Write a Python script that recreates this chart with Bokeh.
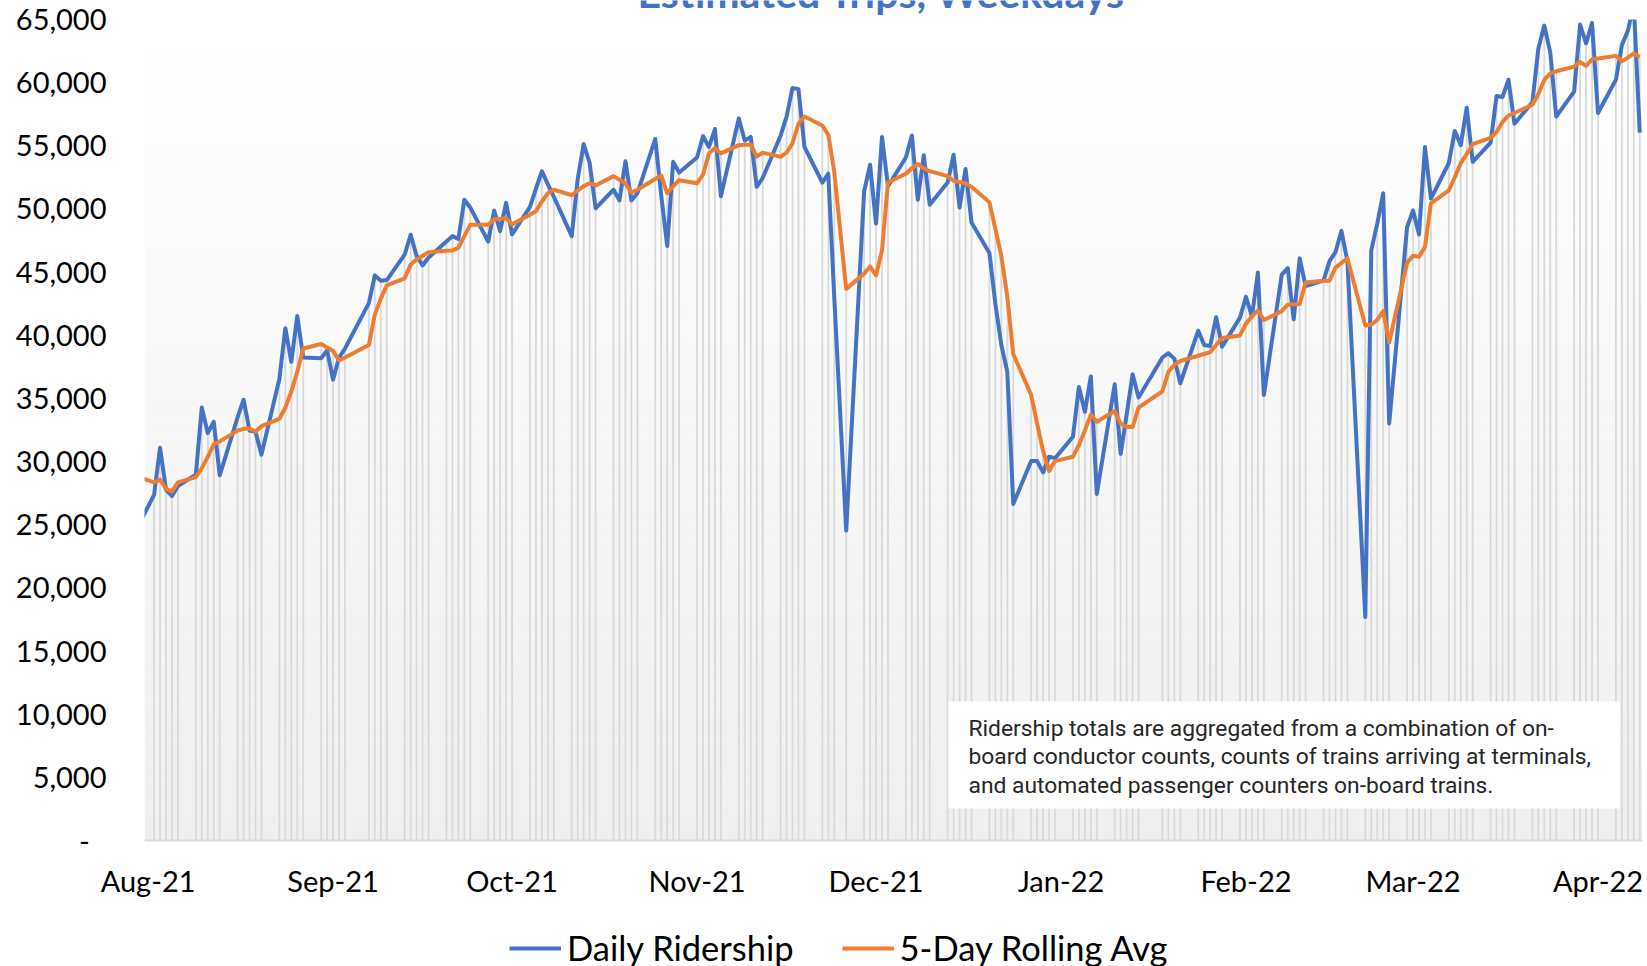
from datetime import datetime, timedelta
import pandas as pd
from bokeh.plotting import figure
from bokeh.models import (Range1d, Label, Span, BoxAnnotation, Legend, LegendItem,
                          ColumnDataSource)
from bokeh.embed import file_html
from bokeh.resources import INLINE

# ---------------- data (weekdays) ----------------
dates = (
    ["2021-07-30"]
    + ["2021-08-%02d" % d for d in [2, 3, 4, 5, 6, 9, 10, 11, 12, 13, 16, 17, 18, 19, 20, 23, 24, 25, 26, 27, 30, 31]]
    + ["2021-09-%02d" % d for d in [1, 2, 3, 7, 8, 9, 10, 13, 14, 15, 16, 17, 20, 21, 22, 23, 24, 27, 28, 29, 30]]
    + ["2021-10-%02d" % d for d in [1, 4, 5, 6, 7, 8, 11, 12, 13, 14, 15, 18, 19, 20, 21, 22, 25, 26, 27, 28, 29]]
    + ["2021-11-%02d" % d for d in [1, 2, 3, 4, 5, 8, 9, 10, 11, 12, 15, 16, 17, 18, 19, 22, 23, 24, 26, 29, 30]]
    + ["2021-12-%02d" % d for d in [1, 2, 3, 6, 7, 8, 9, 10, 13, 14, 15, 16, 17, 20, 21, 22, 23, 24, 27, 28, 29, 30, 31]]
    + ["2022-01-%02d" % d for d in [3, 4, 5, 6, 7, 10, 11, 12, 13, 14, 18, 19, 20, 21, 24, 25, 26, 27, 28, 31]]
    + ["2022-02-%02d" % d for d in [1, 2, 3, 4, 7, 8, 9, 10, 11, 14, 15, 16, 17, 18, 21, 22, 23, 24, 25, 28]]
    + ["2022-03-%02d" % d for d in [1, 2, 3, 4, 7, 8, 9, 10, 11, 14, 15, 16, 17, 18, 21, 22, 23, 24, 25, 28, 29, 30, 31]]
    + ["2022-04-%02d" % d for d in [1, 4, 5, 6, 7, 8]]
)

daily_ridership = [
    24600,
    27360, 31090, 27780, 27270, 28070, 28970, 34280, 32250, 33150, 28910, 33500, 34900, 32450, 32360, 30550,
    36540, 40560, 37900, 41520, 38240, 38180, 38800,
    36490, 38240, 38950, 42540, 44740, 44320, 44370, 46380, 47960, 46290, 45530, 46150, 47420, 47850, 47620,
    50730, 50110, 47420, 49880, 48240, 50480,
    47990, 50170, 51600, 52990, 51950, 50960, 47850, 52370, 55140, 53640, 50050, 51520, 50670, 53780, 50670,
    51240, 55540, 51070, 47060, 53730, 52880,
    54070, 55760, 54910, 56330, 51010, 57170, 55420, 55700, 51750, 52450, 55800, 57300, 59580, 59490, 54910,
    52090, 52790, 43000, 24540, 51380, 53500,
    48840, 55700, 51800, 54070, 55820, 50730, 54260, 50330, 52090, 54290, 50110, 53160, 48920, 46520, 42500,
    39230, 37110, 26650, 30040, 30040, 29140, 30380, 30270,
    31970, 35900, 33940, 36740, 27440, 36120, 30610, 33720, 36910, 35070, 38240, 38580, 38150, 36200, 40360,
    39230, 39140, 41430, 39090, 41400,
    43040, 41490, 44970, 35270, 44800, 45310, 41260, 46100, 43890, 44320, 45870, 46580, 48270, 45870, 17700,
    46720, 48840, 51240, 33010, 48550,
    49880, 47990, 54910, 50820, 53640, 56180, 55050, 58020, 53730, 55250, 58950, 58870, 60230, 56750, 58450,
    62680, 64520, 62400, 57320, 59290, 64600, 63110, 64720,
    57600, 60230, 62970, 64100, 66200, 56040,
]

rolling_avg_5day = [
    28850,
    28350, 28580, 27840, 27640, 28350, 28770, 29480, 30380, 31370, 31600, 32450, 32590, 32640, 32360, 32810,
    33380, 34280, 35550, 37110, 38950, 39310, 39030,
    38750, 38010, 38240, 39230, 41630, 42900, 43950, 44510, 45590, 46010, 46290, 46580, 46690, 46720, 46920,
    47850, 48750, 48750, 49200, 49230, 49260,
    48780, 49540, 49830, 50590, 51240, 51520, 51100, 51460, 51800, 52030, 51860, 52600, 52310, 52030, 51300,
    51520, 52370, 52650, 51240, 51800, 52280,
    52030, 52710, 54400, 54830, 54400, 55050, 55080, 55110, 54150, 54460, 54120, 54460, 55200, 56750, 57320,
    56610, 55870, 52930, 43670, 44880, 45450,
    44740, 46720, 52090, 52790, 53220, 53560, 53220, 52990, 52600, 52230, 52140, 52030, 51750, 50530, 48410,
    46290, 43040, 38520, 35270, 33010, 30830, 29250, 30040,
    30380, 31310, 32450, 33720, 33150, 34000, 33010, 32730, 32730, 34280, 35560, 37110, 37670, 37960, 38380,
    38520, 38660, 39230, 39790, 39990,
    40920, 41490, 41970, 41210, 41910, 42420, 42450, 42480, 44170, 44320, 44320, 45360, 45730, 46100, 40780,
    40840, 41210, 41910, 39430, 45730,
    46290, 46210, 47000, 50450, 51470, 52510, 53640, 54350, 55140, 55620, 56100, 56890, 57400, 57600, 58250,
    59100, 60230, 60710, 60900, 61270, 61640, 61330, 61840,
    61920, 62120, 61700, 61980, 62320, 62030,
]

month_ticks = ["2021-08-01", "2021-09-01", "2021-10-01", "2021-11-01", "2021-12-01",
               "2022-01-01", "2022-02-01", "2022-03-01", "2022-04-01"]
month_labels = ["Aug-21", "Sep-21", "Oct-21", "Nov-21", "Dec-21",
                "Jan-22", "Feb-22", "Mar-22", "Apr-22"]
y_ticks = list(range(0, 65001, 5000))

title_text = "Estimated Trips, Weekdays"
note_lines = ["Ridership totals are aggregated from a combination of on-",
              "board conductor counts, counts of trains arriving at terminals,",
              "and automated passenger counters on-board trains."]

assert len(dates) == len(daily_ridership) == len(rolling_avg_5day)

# ---------------- layout constants ----------------
BLUE = "#4472C4"
ORANGE = "#ED7D31"
FONT = "Lato"
W, H = 1647, 966
PLOT_LEFT, PLOT_TOP, PLOT_RIGHT = 144, 19, 1642   # canvas pixels of the plot area
ZERO_Y = 840                                      # canvas row of the value 0
Y_MAX = 65000
X_START = datetime(2021, 7, 31, 9, 30)
X_END = datetime(2022, 4, 8, 11, 0)

ppu = (ZERO_Y - PLOT_TOP) / Y_MAX                  # pixels per rider
ppd = (PLOT_RIGHT - PLOT_LEFT) / ((X_END - X_START).total_seconds() / 86400)  # pixels per day
x_lo = X_START - timedelta(days=PLOT_LEFT / ppd)
x_hi = X_END + timedelta(days=(W - PLOT_RIGHT) / ppd)
y_lo = -(H - ZERO_Y) / ppu
y_hi = Y_MAX + PLOT_TOP / ppu

def ms(d):
    return pd.Timestamp(d).value // 10**6

dt = pd.to_datetime(dates)
src = ColumnDataSource(dict(
    date=dt,
    daily=daily_ridership,
    avg=rolling_avg_5day,
    top=[max(a, b) for a, b in zip(daily_ridership, rolling_avg_5day)],
    zero=[0] * len(dates),
))

# the frame covers the whole canvas so that no text is clipped
p = figure(width=W, height=H, x_axis_type="datetime",
           x_axis_location=None, y_axis_location=None,
           output_backend="svg", toolbar_location=None,
           x_range=Range1d(x_lo, x_hi), y_range=Range1d(y_lo, y_hi),
           min_border=0, min_border_left=0, min_border_right=0,
           min_border_top=0, min_border_bottom=0)
p.background_fill_color = "white"
p.border_fill_color = "white"
p.outline_line_color = None
p.grid.visible = False

# gradient plot-area background (white at top -> light gray at bottom)
nb = 65
for i in range(nb):
    y0 = Y_MAX * i / nb
    y1 = Y_MAX * (i + 1) / nb
    t = (i + 0.5) / nb
    c = int(round(239 + (255 - 239) * t))
    p.add_layout(BoxAnnotation(left=ms(X_START), right=ms(X_END), bottom=y0, top=y1,
                               fill_color="#%02x%02x%02x" % (c, c, c),
                               fill_alpha=1.0, line_color=None, level="underlay"))

# horizontal axis line
p.add_layout(Span(location=0, dimension="width", line_color="#d9d9d9", line_width=2,
                  level="underlay"))

# drop lines
p.segment(x0="date", y0="zero", x1="date", y1="top", source=src,
          line_color="#d9d9d9", line_width=1.8)

r_daily = p.line("date", "daily", source=src, line_color=BLUE, line_width=4, line_join="round")
r_avg = p.line("date", "avg", source=src, line_color=ORANGE, line_width=4, line_join="round")

# white margins outside the plot area (clip like the plot area does)
for kw in (dict(right=ms(X_START)), dict(left=ms(X_END)), dict(bottom=Y_MAX)):
    p.add_layout(BoxAnnotation(fill_color="white", fill_alpha=1.0, line_color=None,
                               level="annotation", **kw))

# note box (screen units from the canvas bottom-left)
p.add_layout(BoxAnnotation(left=948, right=1619, bottom=H - 808, top=H - 701,
                           left_units="screen", right_units="screen",
                           bottom_units="screen", top_units="screen",
                           fill_color="white", fill_alpha=1.0, line_color=None,
                           level="annotation"))
for k, line in enumerate(note_lines):
    p.add_layout(Label(x=968, y=H - (728 + 28.4 * k), x_units="screen", y_units="screen",
                       text=line, text_font="Roboto", text_font_size="22.8px",
                       text_color="#262626", text_baseline="middle", text_align="left"))

# value-axis labels
for v in y_ticks:
    txt = "-\u2007" if v == 0 else f"{v:,}"
    p.add_layout(Label(x=106, x_units="screen", y=v, y_units="data", text=txt,
                       text_font=FONT, text_font_size="29px", text_color="#000000",
                       text_align="right", text_baseline="middle"))

# date-axis labels
label_y = -(880 - ZERO_Y) / ppu
for t, lab in zip(month_ticks, month_labels):
    p.add_layout(Label(x=ms(t), y=label_y, text=lab,
                       text_font=FONT, text_font_size="29px", text_color="#000000",
                       text_align="center", text_baseline="middle"))

# cut-off title (only its lower part shows at the top edge, as in the reference)
p.add_layout(Label(x=881, y=H + 8, x_units="screen", y_units="screen", text=title_text,
                   text_font=FONT, text_font_style="bold", text_font_size="41px",
                   text_color=BLUE, text_align="center", text_baseline="alphabetic"))

legend = Legend(items=[LegendItem(label="Daily Ridership", renderers=[r_daily]),
                       LegendItem(label="5-Day Rolling Avg", renderers=[r_avg])],
                orientation="horizontal", location=(509, -2),
                glyph_width=52, glyph_height=20, label_standoff=6, spacing=48,
                padding=0, margin=0, border_line_color=None, background_fill_alpha=0,
                label_text_font=FONT, label_text_font_size="34.5px", label_text_color="#000000")
p.add_layout(legend)

open("out.html", "w").write(file_html(p, INLINE))
